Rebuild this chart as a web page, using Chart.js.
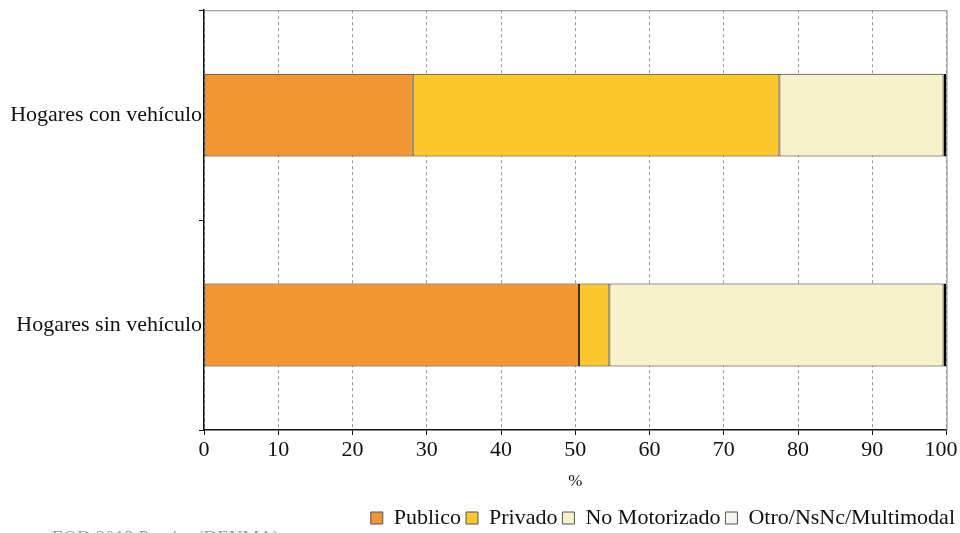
<!DOCTYPE html>
<html>
<head>
<meta charset="utf-8">
<script src="https://cdn.jsdelivr.net/npm/chart.js@4"></script>
<style>
    body { margin: 0; background: #fff; overflow: hidden; }
    #contenedor { position: relative; width: 960px; height: 533px; }
    #fuente {
        position: absolute; left: 52px; top: 527px;
        font-family: "Liberation Serif", serif; font-size: 19px; color: #9a9a9a;
        white-space: nowrap;
    }
</style>
</head>
<body>
<div id="contenedor">
    <canvas id="grafico"></canvas>
    <div id="fuente">EOD 2012 Pereira (DENMA)</div>
</div>
<script>
const categorias = ["Hogares con vehículo", "Hogares sin vehículo"];
const publico = [28.1, 50.5];
const privado = [49.4, 4.1];
const noMotorizado = [22.1, 45.0];
const otro = [0.4, 0.4];
const ticksX = [0, 10, 20, 30, 40, 50, 60, 70, 80, 90, 100];

const FUENTE = "'Liberation Serif', 'DejaVu Serif', serif";

// marco gris arriba y a la derecha del area del grafico
const marco = {
    id: "marco",
    beforeDatasetsDraw(chart) {
        const { ctx, chartArea } = chart;
        ctx.save();
        ctx.strokeStyle = "#8a8a8a";
        ctx.lineWidth = 1;
        ctx.beginPath();
        ctx.moveTo(chartArea.left, chartArea.top + 0.5);
        ctx.lineTo(chartArea.right + 0.5, chartArea.top + 0.5);
        ctx.lineTo(chartArea.right + 0.5, chartArea.bottom);
        ctx.stroke();
        ctx.restore();
    }
};

function crearSerie(nombre, valores, color, borde, grosor) {
    return {
        label: nombre,
        data: valores,
        backgroundColor: color,
        borderColor: borde,
        borderWidth: grosor,
        borderSkipped: false,
        barPercentage: 0.79,
        categoryPercentage: 0.5
    };
}

new Chart(document.getElementById("grafico"), {
    type: "bar",
    data: {
        labels: categorias,
        datasets: [
            crearSerie("Publico", publico, "#f39530", "#2b2118", 1),
            crearSerie("Privado", privado, "#fcc72a", "#2b2118", 1),
            crearSerie("No Motorizado", noMotorizado, "#f8f2cb", "#2b2118", 1),
            crearSerie("Otro/NsNc/Multimodal", otro, "#f4f4f0", "#000000", 2)
        ]
    },
    options: {
        indexAxis: "y",
        responsive: true,
        maintainAspectRatio: false,
        animation: false,
        layout: { padding: { top: 9, right: 0, left: 0, bottom: -6 } },
        plugins: {
            legend: {
                position: "bottom",
                align: "end",
                labels: {
                    boxWidth: 12,
                    boxHeight: 12,
                    padding: 5,
                    color: "#111",
                    font: { family: FUENTE, size: 22 },
                    generateLabels(chart) {
                        const items = Chart.defaults.plugins.legend.labels.generateLabels(chart);
                        items.forEach(item => {
                            item.lineWidth = 1;
                            item.strokeStyle = "#555";
                        });
                        return items;
                    }
                }
            },
            tooltip: { enabled: false }
        },
        scales: {
            x: {
                stacked: true,
                min: 0,
                max: 100,
                afterBuildTicks(scale) {
                    scale.ticks = ticksX.map(v => ({ value: v }));
                },
                afterFit(scale) {
                    scale.height = 72;
                    scale.paddingRight = 13.5;
                    scale.paddingLeft = 0;
                },
                grid: {
                    color: "#9a9a9a",
                    lineWidth: 1,
                    drawTicks: true,
                    tickLength: 5,
                    tickColor: "#111"
                },
                border: { display: true, color: "#111", width: 1.5, dash: [3, 3] },
                ticks: {
                    color: "#111",
                    padding: 2,
                    font: { family: FUENTE, size: 22 },
                    // el ultimo rotulo se corre un poco a la izquierda, como en el original
                    callback: valor => valor === 100 ? "100\u2002" : String(valor)
                },
                title: {
                    display: true,
                    text: "%",
                    color: "#111",
                    padding: { top: 4, bottom: 10 },
                    font: { family: FUENTE, size: 17 }
                }
            },
            y: {
                stacked: true,
                afterFit(scale) { scale.width = 204; },
                grid: {
                    drawOnChartArea: false,
                    drawTicks: true,
                    tickLength: 5,
                    tickColor: "#111"
                },
                border: { display: true, color: "#111", width: 1.5 },
                ticks: {
                    color: "#111",
                    padding: -3,
                    font: { family: FUENTE, size: 22 }
                }
            }
        }
    },
    plugins: [marco]
});
</script>
</body>
</html>
